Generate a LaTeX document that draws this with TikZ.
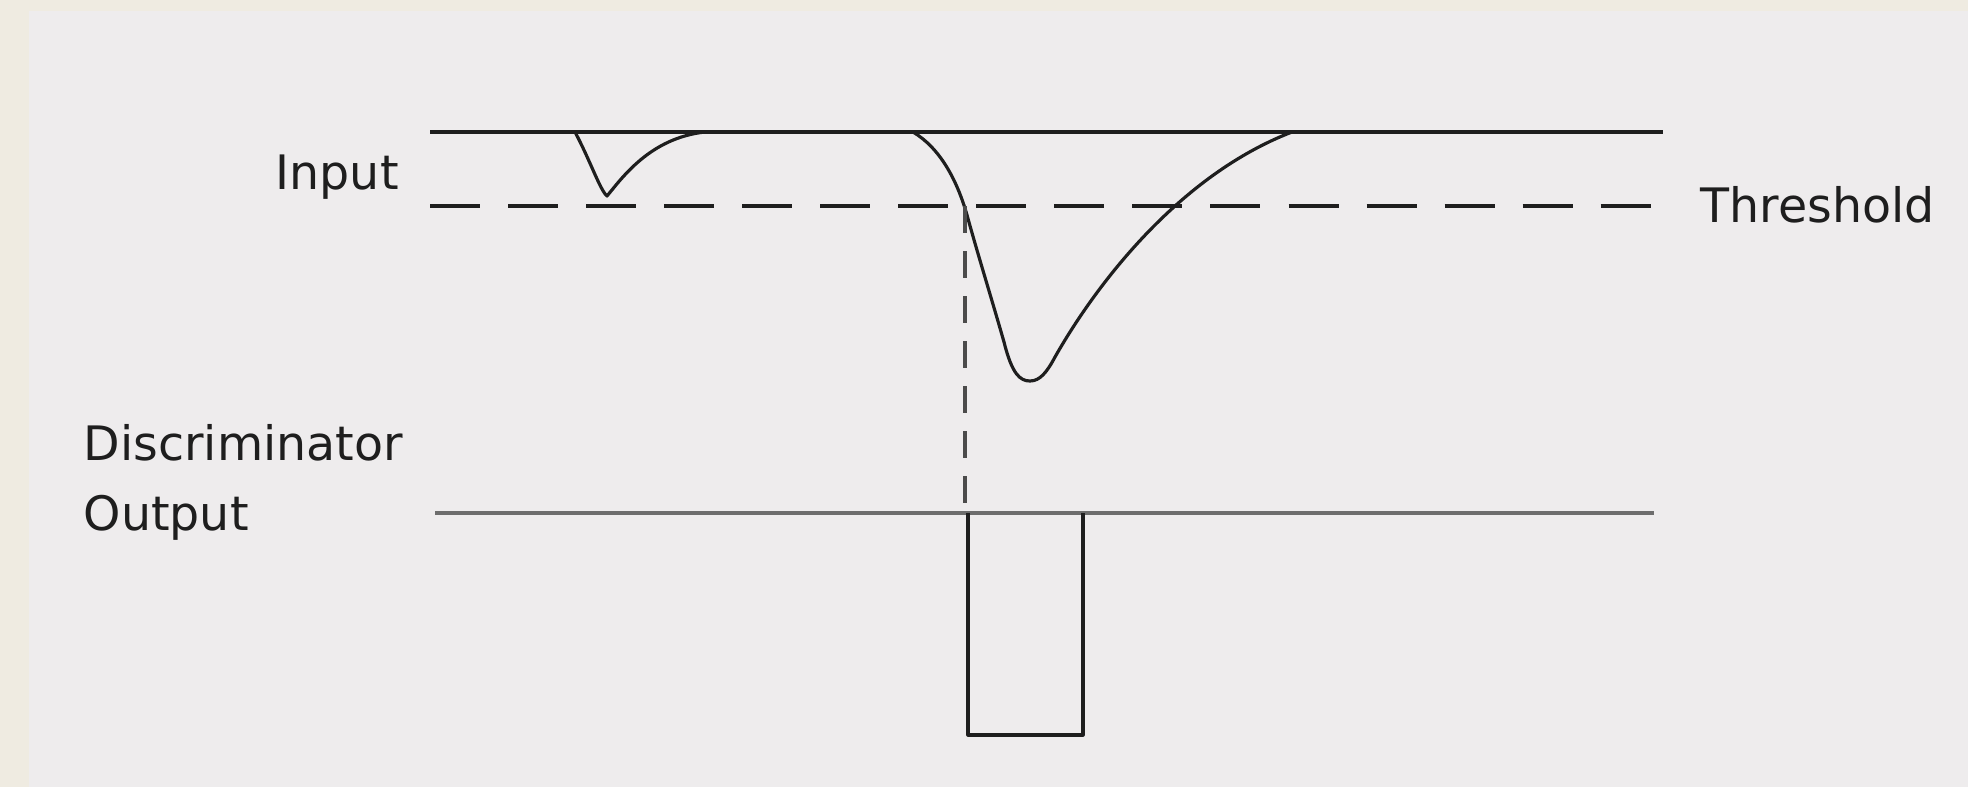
\documentclass[tikz,border=0pt]{standalone}
\usepackage{fontspec}
\setmainfont{DejaVu Sans}
\usepackage{xcolor}
\usepackage{tikz}
\usetikzlibrary{positioning}

\definecolor{pagebeige}{RGB}{239,235,225}
\definecolor{panelgray}{RGB}{238,236,237}
\definecolor{inkgray}{RGB}{30,30,30}

\begin{document}
\begin{tikzpicture}[
  x=0.01cm, y=-0.01cm,
  label/.style={font=\fontsize{13.5}{16}\selectfont, text=inkgray,
                inner sep=0pt, anchor=base west},
  trace/.style={line width=0.9pt, draw=inkgray, line join=round},
  thresh/.style={line width=0.9pt, draw=inkgray, dash pattern=on 0.5cm off 0.28cm},
  drop/.style={line width=0.9pt, draw=inkgray!80, dash pattern=on 0.27cm off 0.18cm}
]
% background
\fill[pagebeige] (0,0) rectangle (1968,787);
\fill[panelgray] (29,11) rectangle (1968,787);
\useasboundingbox (0,0) rectangle (1968,787);

% reference levels
\coordinate (inL) at (430,132);
\coordinate (inR) at (1663,132);
\coordinate (thL) at (430,206);
\coordinate (thR) at (1659,206);
\coordinate (outL) at (435,513);
\coordinate (outR) at (1654,513);
\coordinate (cross) at (965,206);
\coordinate (cross0) at (965,513);

\node[label] (input) at (275,189) {Input};
\node[label] (threshold) at (1700,222) {Threshold};
\node[label] (discr) at (83,460) {Discriminator};
\node[label] (output) at (83,530) {Output};

\draw[trace] (inL) -- (inR);
\draw[thresh] (thL) -- (thR);

% small pulse, stays above threshold
\draw[trace] (575,132) .. controls (590,160) and (600,190) .. (607,196)
  .. controls (622,178) and (650,138) .. (705,132);

% large pulse, crosses threshold
\draw[trace] (913,132) .. controls (940,148) and (957,180) .. (967,215)
  .. controls (978,255) and (992,300) .. (1004,342)
  .. controls (1012,374) and (1020,381) .. (1030,381)
  .. controls (1040,381) and (1047,372) .. (1055,357)
  .. controls (1097,283) and (1180,175) .. (1292,132);

\draw[drop] (cross) -- (cross0);

% discriminator output
\draw[trace, draw=inkgray!65] (outL) -- (outR);
\draw[trace] (968,513) -- (968,735) -- (1083,735) -- (1083,513);
\end{tikzpicture}
\end{document}
